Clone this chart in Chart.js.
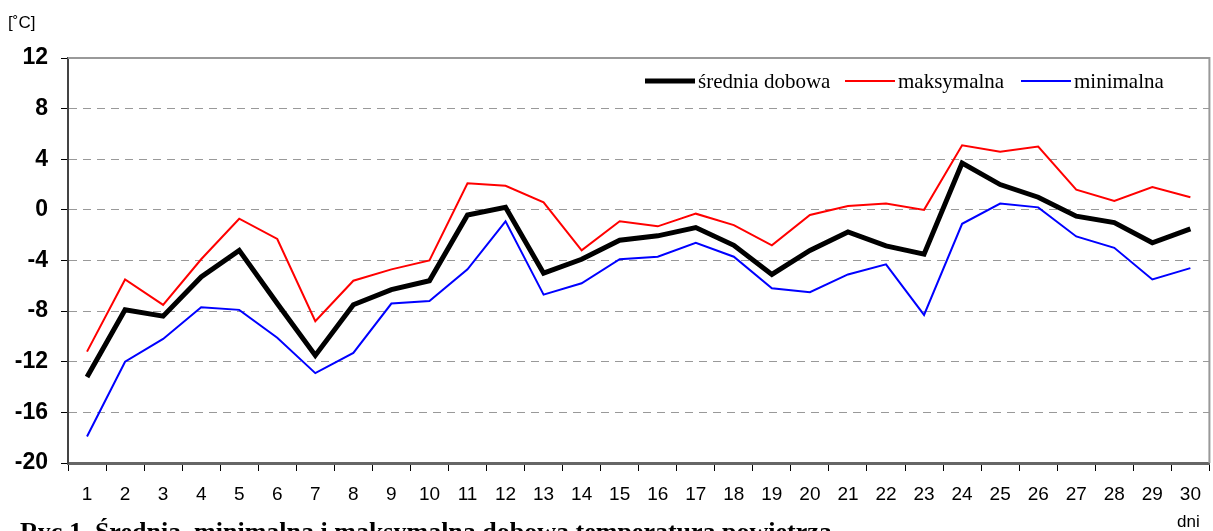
<!DOCTYPE html>
<html>
<head>
<meta charset="utf-8">
<script src="https://cdn.jsdelivr.net/npm/chart.js@4"></script>
<style>
  html, body { margin: 0; padding: 0; background: #fff; }
  #wrap { width: 1213px; height: 531px; position: relative; }
</style>
</head>
<body>
<div id="wrap"><canvas id="tempChart" width="1213" height="531"></canvas></div>
<script>
const days = ['1','2','3','4','5','6','7','8','9','10','11','12','13','14','15',
              '16','17','18','19','20','21','22','23','24','25','26','27','28','29','30'];
const srednia = [-13.2, -7.9, -8.4, -5.3, -3.2, -7.4, -11.5, -7.5, -6.3, -5.6, -0.4, 0.2, -5.0, -3.9, -2.4,
                 -2.05, -1.4, -2.8, -5.1, -3.2, -1.75, -2.85, -3.5, 3.7, 2.0, 1.0, -0.5, -1.0, -2.6, -1.5];
const maksymalna = [-11.2, -5.5, -7.5, -3.9, -0.7, -2.3, -8.8, -5.6, -4.7, -4.0, 2.1, 1.9, 0.6, -3.2, -0.9,
                    -1.3, -0.3, -1.2, -2.8, -0.4, 0.3, 0.5, 0.0, 5.1, 4.6, 5.0, 1.6, 0.7, 1.8, 1.0];
const minimalna = [-17.9, -12.0, -10.2, -7.7, -7.9, -10.1, -12.9, -11.3, -7.4, -7.2, -4.7, -0.9, -6.7, -5.8, -3.9,
                   -3.7, -2.6, -3.7, -6.2, -6.5, -5.1, -4.3, -8.3, -1.1, 0.5, 0.2, -2.1, -3.0, -5.5, -4.6];
const yTicks = { min: -20, max: 12, step: 4 };

const legendItems = [
    { text: 'średnia dobowa', color: '#000', width: 5, x: 645 },
    { text: 'maksymalna', color: '#ff0000', width: 2, x: 845 },
    { text: 'minimalna', color: '#0000ff', width: 2, x: 1021 }
];

const extras = {
    id: 'extras',
    afterDraw(chart) {
        const ctx = chart.ctx;
        const area = chart.chartArea;
        ctx.save();
        // top and right frame
        ctx.strokeStyle = '#999';
        ctx.lineWidth = 2;
        ctx.beginPath();
        ctx.moveTo(area.left, area.top);
        ctx.lineTo(area.right, area.top);
        ctx.lineTo(area.right, area.bottom);
        ctx.stroke();

        // legend
        ctx.font = '21px "Liberation Serif", "Times New Roman", serif';
        ctx.textBaseline = 'middle';
        const y = 81;
        legendItems.forEach(item => {
            ctx.strokeStyle = item.color;
            ctx.lineWidth = item.width;
            ctx.beginPath();
            ctx.moveTo(item.x, y);
            ctx.lineTo(item.x + 50, y);
            ctx.stroke();
            ctx.fillStyle = '#000';
            ctx.fillText(item.text, item.x + 53, y + 1);
        });

        // unit, axis name, caption
        ctx.fillStyle = '#000';
        ctx.font = '17px "Liberation Sans", Arial, sans-serif';
        ctx.textBaseline = 'alphabetic';
        ctx.textAlign = 'left';
        ctx.fillText('[˚C]', 8, 28);
        ctx.fillText('dni', 1177, 527);
        ctx.font = 'bold 26px "Liberation Serif", "Times New Roman", serif';
        ctx.fillText('Ryc.1. Średnia, minimalna i maksymalna dobowa temperatura powietrza', 20, 540);
        ctx.restore();
    }
};

new Chart(document.getElementById('tempChart').getContext('2d'), {
    type: 'line',
    data: {
        labels: days,
        datasets: [{
            label: 'średnia dobowa',
            data: srednia,
            borderColor: '#000',
            borderWidth: 5,
            pointRadius: 0,
            tension: 0,
            order: 0
        }, {
            label: 'maksymalna',
            data: maksymalna,
            borderColor: '#ff0000',
            borderWidth: 2,
            pointRadius: 0,
            tension: 0,
            order: 1
        }, {
            label: 'minimalna',
            data: minimalna,
            borderColor: '#0000ff',
            borderWidth: 2,
            pointRadius: 0,
            tension: 0,
            order: 2
        }]
    },
    options: {
        responsive: false,
        animation: false,
        layout: { padding: { top: 58, right: 3, left: 0, bottom: 0 } },
        plugins: {
            legend: { display: false },
            tooltip: { enabled: false }
        },
        scales: {
            x: {
                offset: true,
                grid: {
                    offset: true,
                    drawOnChartArea: false,
                    drawTicks: true,
                    tickLength: 8,
                    color: '#000'
                },
                border: { color: '#666', width: 3 },
                ticks: {
                    color: '#000',
                    padding: 12,
                    maxRotation: 0,
                    autoSkip: false,
                    font: { family: '"Liberation Sans Narrow", "Liberation Sans", Arial, sans-serif', size: 19 }
                },
                afterFit(scale) { scale.height = 68; }
            },
            y: {
                min: yTicks.min,
                max: yTicks.max,
                grid: {
                    color: '#999',
                    lineWidth: 1,
                    tickLength: 7,
                    tickColor: '#000',
                    drawTicks: true
                },
                border: { color: '#444', width: 2, dash: [8, 6] },
                ticks: {
                    stepSize: yTicks.step,
                    color: '#000',
                    padding: 13,
                    font: { family: '"Liberation Sans", Arial, sans-serif', size: 23, weight: 'bold' }
                },
                afterFit(scale) { scale.width = 68; }
            }
        }
    },
    plugins: [extras]
});
</script>
</body>
</html>
